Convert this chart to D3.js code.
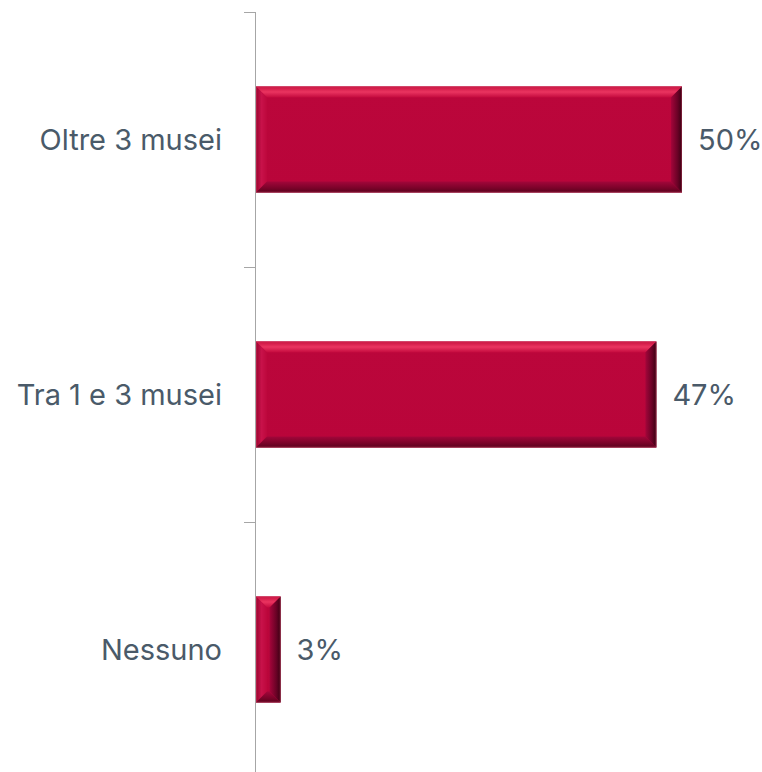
<!DOCTYPE html>
<html>
<head>
<meta charset="utf-8">
<script src="https://cdn.jsdelivr.net/npm/d3@7"></script>
<style>
  html, body { margin: 0; padding: 0; background: #ffffff; }
  svg { display: block; }
</style>
</head>
<body>
<svg id="chart" width="762" height="772"></svg>
<script>
// Categories, top to bottom, and their shares (%)
const categories = ["Oltre 3 musei", "Tra 1 e 3 musei", "Nessuno"];
const values = [50, 47, 3];
const valueLabels = ["50%", "47%", "3%"];

const svg = d3.select("#chart");
const fontFamily = "Inter, 'Noto Sans', sans-serif";
const fontSize = 29;
const textColor = "#4a5a69";

const axisX = 255;
const x = d3.scaleLinear().domain([0, 50]).range([axisX, 682]);
const y = d3.scaleBand()
  .domain(categories)
  .range([12, 777])
  .paddingInner(0.584)
  .paddingOuter(0.292);

// Gradients for the bevelled bar faces
const defs = svg.append("defs");
function linGrad(id, x1, y1, x2, y2, stops) {
  const g = defs.append("linearGradient").attr("id", id)
    .attr("x1", x1).attr("y1", y1).attr("x2", x2).attr("y2", y2);
  stops.forEach(s => g.append("stop").attr("offset", s[0]).attr("stop-color", s[1]));
}
linGrad("bevTop", 0, 0, 0, 1, [[0, "#c8103f"], [0.5, "#ea3460"], [1, "#c40a3e"]]);
linGrad("bevLeft", 0, 0, 1, 0, [[0, "#9a0530"], [0.5, "#c8124a"], [1, "#bd073c"]]);
linGrad("bevRight", 0, 0, 1, 0, [[0, "#a4053a"], [0.6, "#6a0226"], [1, "#3a0012"]]);
linGrad("bevBottom", 0, 0, 0, 1, [[0, "#a3063a"], [0.6, "#7a0329"], [1, "#5a021d"]]);
linGrad("faceFill", 0, 0, 0, 1, [[0, "#bb063b"], [1, "#b9053a"]]);

// Axis line and tick marks at band boundaries
const step = y.step();
const yStart = y.range()[0];
svg.append("line")
  .attr("x1", axisX + 0.5).attr("x2", axisX + 0.5)
  .attr("y1", yStart).attr("y2", 772)
  .attr("stroke", "#a6a6a6").attr("stroke-width", 1);
d3.range(categories.length + 1).forEach(i => {
  const ty = Math.round(yStart + i * step) + 0.5;
  svg.append("line")
    .attr("x1", axisX - 11).attr("x2", axisX)
    .attr("y1", ty).attr("y2", ty)
    .attr("stroke", "#a6a6a6").attr("stroke-width", 1);
});

// Bars with bevelled edges
const bars = svg.selectAll("g.bar")
  .data(categories.map((c, i) => ({ c, v: values[i], label: valueLabels[i] })))
  .join("g").attr("class", "bar");

bars.each(function (d) {
  const g = d3.select(this);
  const x0 = x(0) + 1, x1 = x(d.v);
  const y0 = y(d.c), h = y.bandwidth(), y1 = y0 + h;
  const w = x1 - x0;
  const b = Math.min(11, w / 2);
  const pts = a => a.map(p => p.join(",")).join(" ");

  g.append("rect").attr("x", x0).attr("y", y0).attr("width", w).attr("height", h)
    .attr("fill", "url(#faceFill)");
  // top
  g.append("polygon").attr("points", pts([[x0, y0], [x1, y0], [x1 - b, y0 + b], [x0 + b, y0 + b]]))
    .attr("fill", "url(#bevTop)");
  // left
  g.append("polygon").attr("points", pts([[x0, y0], [x0 + b, y0 + b], [x0 + b, y1 - b], [x0, y1]]))
    .attr("fill", "url(#bevLeft)");
  // bottom
  g.append("polygon").attr("points", pts([[x0, y1], [x0 + b, y1 - b], [x1 - b, y1 - b], [x1, y1]]))
    .attr("fill", "url(#bevBottom)");
  // right
  g.append("polygon").attr("points", pts([[x1, y0], [x1, y1], [x1 - b, y1 - b], [x1 - b, y0 + b]]))
    .attr("fill", "url(#bevRight)");
  // thin light rim
  g.append("rect").attr("x", x0 + 0.5).attr("y", y0 + 0.5).attr("width", w - 1).attr("height", h - 1)
    .attr("fill", "none").attr("stroke", "#d8506f").attr("stroke-opacity", 0.35).attr("stroke-width", 1);

  // value label
  g.append("text")
    .attr("x", x1 + 16).attr("y", y0 + h / 2)
    .attr("dy", "0.35em")
    .attr("font-family", fontFamily).attr("font-size", fontSize)
    .attr("fill", textColor)
    .text(d.label);
});

// Category labels
svg.selectAll("text.cat")
  .data(categories)
  .join("text").attr("class", "cat")
  .attr("x", 222)
  .attr("y", d => y(d) + y.bandwidth() / 2)
  .attr("dy", "0.35em")
  .attr("text-anchor", "end")
  .attr("font-family", fontFamily).attr("font-size", fontSize)
  .attr("fill", textColor)
  .text(d => d);
</script>
</body>
</html>
